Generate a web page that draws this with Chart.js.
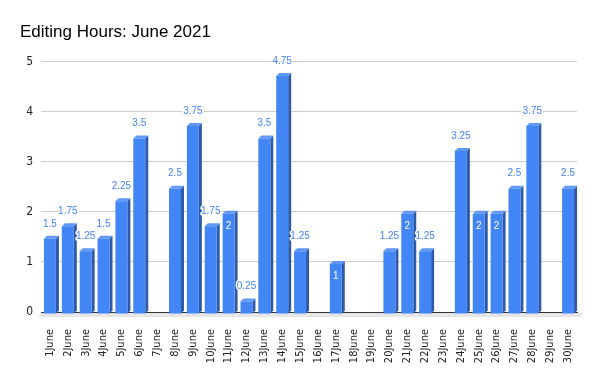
<!DOCTYPE html>
<html>
<head>
<meta charset="utf-8">
<script src="https://cdn.jsdelivr.net/npm/chart.js@4"></script>
<style>
    html, body { margin: 0; padding: 0; background: #fff; }
    #wrap { width: 600px; height: 371px; }
</style>
</head>
<body>
<div id="wrap"><canvas id="editingChart"></canvas></div>
<script>
// Chart data
const days = [
    '1June', '2June', '3June', '4June', '5June', '6June', '7June', '8June', '9June', '10June',
    '11June', '12June', '13June', '14June', '15June', '16June', '17June', '18June', '19June', '20June',
    '21June', '22June', '23June', '24June', '25June', '26June', '27June', '28June', '29June', '30June'
];
const hours = [
    1.5, 1.75, 1.25, 1.5, 2.25, 3.5, null, 2.5, 3.75, 1.75,
    2, 0.25, 3.5, 4.75, 1.25, null, 1, null, null, 1.25,
    2, 1.25, null, 3.25, 2, 2, 2.5, 3.75, null, 2.5
];
const yTicks = [0, 1, 2, 3, 4, 5];

const frontColor = '#4285f4';
const sideColor = '#2c5aa8';
const topColor = '#5f98f6';
const depth = 3;
const shift = 2;

// 1. Fake 3D faces (side + top) around every bar
const bar3d = {
    id: 'bar3d',
    beforeDatasetsDraw(chart) {
        const ctx = chart.ctx;
        const area = chart.chartArea;
        const zeroY = chart.scales.y.getPixelForValue(0);

        // floor under the bars
        ctx.save();
        ctx.fillStyle = '#e6e6e6';
        ctx.beginPath();
        ctx.moveTo(area.left, zeroY + 1);
        ctx.lineTo(area.right + 6, zeroY + 1);
        ctx.lineTo(area.right + 3, zeroY + 5);
        ctx.lineTo(area.left - 2, zeroY + 5);
        ctx.closePath();
        ctx.fill();
        ctx.restore();

        ctx.save();
        ctx.translate(0, shift);
        chart.getDatasetMeta(0).data.forEach((bar, i) => {
            if (hours[i] === null) return;
            const half = bar.width / 2;
            const l = bar.x - half, r = bar.x + half;
            const t = bar.y, b = bar.base;
            ctx.fillStyle = sideColor;
            ctx.beginPath();
            ctx.moveTo(r, t);
            ctx.lineTo(r + depth, t - depth);
            ctx.lineTo(r + depth, b - depth);
            ctx.lineTo(r, b);
            ctx.closePath();
            ctx.fill();
            ctx.fillStyle = topColor;
            ctx.beginPath();
            ctx.moveTo(l, t);
            ctx.lineTo(l + depth, t - depth);
            ctx.lineTo(r + depth, t - depth);
            ctx.lineTo(r, t);
            ctx.closePath();
            ctx.fill();
        });
        ctx.restore();
    },
    beforeDatasetDraw(chart) {
        chart.ctx.save();
        chart.ctx.translate(0, shift);
    },
    afterDatasetDraw(chart) {
        chart.ctx.restore();
    }
};

// 2. Value labels (whole numbers sit inside the bar)
const valueLabels = {
    id: 'valueLabels',
    afterDatasetsDraw(chart) {
        const ctx = chart.ctx;
        ctx.save();
        ctx.font = '10px "Liberation Sans", Arial, sans-serif';
        ctx.textAlign = 'center';
        ctx.textBaseline = 'middle';
        ctx.lineJoin = 'round';
        chart.getDatasetMeta(0).data.forEach((bar, i) => {
            const v = hours[i];
            if (v === null) return;
            const txt = String(v);
            if (Number.isInteger(v)) {
                ctx.fillStyle = '#ffffff';
                ctx.fillText(txt, bar.x, bar.y + shift + 12);
            } else {
                const y = bar.y - 13;
                ctx.strokeStyle = '#ffffff';
                ctx.lineWidth = 3;
                ctx.strokeText(txt, bar.x, y);
                ctx.fillStyle = frontColor;
                ctx.fillText(txt, bar.x, y);
            }
        });
        ctx.restore();
    }
};

const ctx = document.getElementById('editingChart').getContext('2d');

const myChart = new Chart(ctx, {
    type: 'bar',
    data: {
        labels: days,
        datasets: [{
            data: hours,
            backgroundColor: frontColor,
            borderWidth: 0,
            categoryPercentage: 1,
            barPercentage: 0.67
        }]
    },
    options: {
        responsive: true,
        maintainAspectRatio: false,
        animation: false,
        events: [],
        layout: { padding: { left: 20, right: 23, top: 0, bottom: 0 } },
        plugins: {
            legend: { display: false },
            tooltip: { enabled: false },
            title: {
                display: true,
                text: 'Editing Hours: June 2021',
                align: 'start',
                color: '#000',
                font: { family: '"Liberation Sans", Arial, sans-serif', size: 17, weight: 'normal' },
                padding: { top: 22, bottom: 19 }
            }
        },
        scales: {
            x: {
                grid: { display: false },
                border: { color: '#333', width: 1 },
                ticks: {
                    color: '#222',
                    autoSkip: false,
                    minRotation: 90,
                    maxRotation: 90,
                    padding: 9,
                    font: { family: '"DejaVu Sans Condensed", sans-serif', size: 11 }
                },
                afterFit: (scale) => { scale.height = 59; }
            },
            y: {
                min: 0,
                max: 5,
                afterBuildTicks: (scale) => { scale.ticks = yTicks.map(v => ({ value: v })); },
                grid: { color: '#cccccc', drawTicks: false },
                border: { display: false },
                ticks: {
                    color: '#222',
                    padding: 8,
                    font: { family: '"DejaVu Sans Condensed", sans-serif', size: 12 }
                },
                afterFit: (scale) => { scale.width = 21; }
            }
        }
    },
    plugins: [bar3d, valueLabels]
});
</script>
</body>
</html>
